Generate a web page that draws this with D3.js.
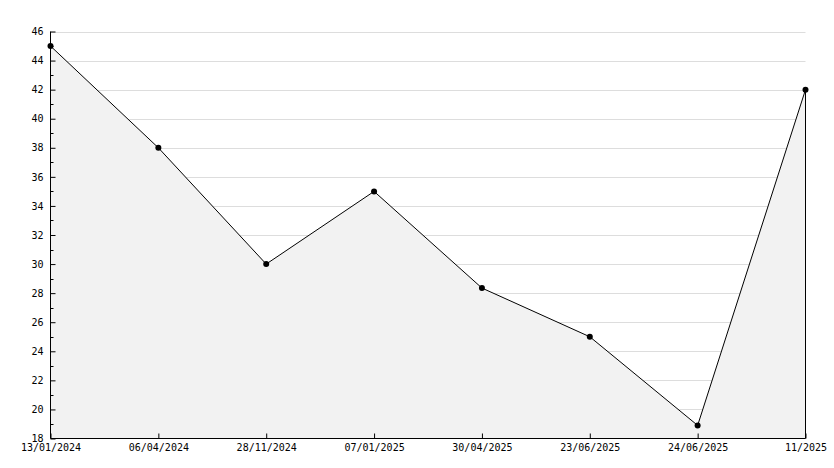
<!DOCTYPE html>
<html><head><meta charset="utf-8">
<script src="https://cdn.jsdelivr.net/npm/d3@7"></script>
<style>body{margin:0;background:#fff}svg{display:block}</style>
</head><body>
<svg id="c" width="834" height="468"></svg>
<script>
const categories = ["13/01/2024","06/04/2024","28/11/2024","07/01/2025","30/04/2025","23/06/2025","24/06/2025","11/2025"];
const values = [45, 38, 30, 35, 28.35, 25, 18.9, 42];
const yTicks = [18,20,22,24,26,28,30,32,34,36,38,40,42,44,46];
const yMinor = [19,21,23,25,27,29,31,33,35,37,39,41,43,45];

const svg = d3.select("#c");
const L = 50.5, R = 805.5, T = 31.5, B = 438.5;
const x = d3.scalePoint().domain(categories).range([L, R]);
const y = d3.scaleLinear().domain([18, 46]).range([B, T]);
const font = "DejaVu Sans Mono, monospace";

// grid
svg.append("g").selectAll("line").data(yTicks.filter(d => d > 18)).join("line")
  .attr("x1", L).attr("x2", R).attr("y1", d => Math.round(y(d)) + 0.5).attr("y2", d => Math.round(y(d)) + 0.5)
  .attr("stroke", "#dddddd").attr("stroke-width", 1);

// area
const pts = categories.map((c, i) => [x(c), y(values[i])]);
const area = d3.area().x(d => d[0]).y0(B).y1(d => d[1]);
svg.append("path").datum(pts).attr("d", area).attr("fill", "#f2f2f2").attr("stroke", "none");
// right edge of area
svg.append("line").attr("x1", R).attr("x2", R).attr("y1", pts[pts.length-1][1]).attr("y2", B).attr("stroke", "#000");
// line
svg.append("path").datum(pts).attr("d", d3.line()).attr("fill", "none").attr("stroke", "#000").attr("stroke-width", 1);

// y axis
const ya = svg.append("g").attr("transform", `translate(${L},0)`)
  .call(d3.axisLeft(y).tickValues(yTicks).tickSize(-5).tickPadding(7).tickFormat(d3.format("d")));
ya.select(".domain").attr("d", `M0,${B - 0}V${T - 0}`).attr("stroke", "#000");
ya.selectAll(".tick line").attr("stroke", "#000");
ya.selectAll(".tick text").attr("font-family", font).attr("font-size", 10).attr("fill", "#000");
ya.selectAll(".minor").data(yMinor).join("line").attr("class", "minor")
  .attr("x1", 0).attr("x2", 3).attr("y1", d => Math.round(y(d)) + 0.5).attr("y2", d => Math.round(y(d)) + 0.5).attr("stroke", "#000");

// x axis
const xa = svg.append("g").attr("transform", `translate(0,${B})`)
  .call(d3.axisBottom(x).tickSize(-5).tickPadding(5));
xa.select(".domain").attr("d", `M${L},0H${R}`).attr("stroke", "#000");
xa.selectAll(".tick line").attr("stroke", "#000");
xa.selectAll(".tick text").attr("font-family", font).attr("font-size", 10).attr("fill", "#000");

// markers
svg.append("g").selectAll("circle").data(pts).join("circle")
  .attr("cx", d => d[0]).attr("cy", d => d[1]).attr("r", 3).attr("fill", "#000");
</script>
</body></html>
